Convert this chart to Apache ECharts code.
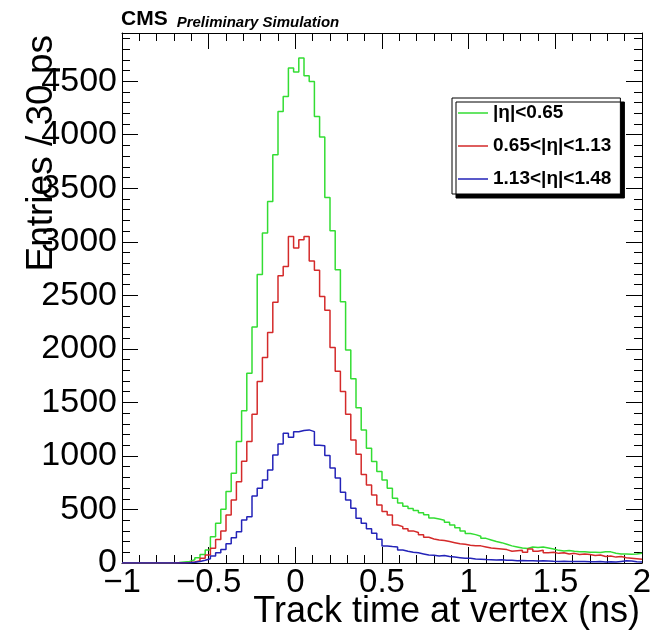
<!DOCTYPE html>
<html><head><meta charset="utf-8">
<script src="https://cdn.jsdelivr.net/npm/echarts@6/dist/echarts.min.js"></script>
<style>html,body{margin:0;padding:0;background:#fff}#c{width:656px;height:635px}</style>
</head><body><div id="c"></div>
<script>
// Histogram binning: 100 bins of 30 ps from -1 ns to 2 ns
const binStart = -1;
const binWidth = 0.03;
const seriesNames = ['|η|<0.65', '0.65<|η|<1.13', '1.13<|η|<1.48'];
const seriesColors = ['#33dd33', '#d42a2a', '#2323b8'];

const green = [
  0,0,0,0,0,0,0,0,0,3,
  5,10,15,30,50,80,121,246,371,501,
  667,838,1134,1421,1773,2203,2695,3081,3377,3813,
  4218,4358,4623,4586,4717,4551,4498,4171,3978,3414,
  3103,2738,2440,1990,1720,1450,1243,1072,947,854,
  776,698,604,560,530,510,490,470,450,420,
  410,400,380,355,330,300,275,265,250,230,
  215,200,190,175,160,150,140,135,150,145,
  150,140,130,118,112,116,110,106,104,100,
  100,98,106,104,92,85,83,81,85,90
];
const red = [
  0,0,0,0,0,0,0,0,0,0,
  2,3,5,10,20,44,75,137,220,300,
  449,589,760,950,1134,1389,1695,1919,2153,2436,
  2682,2770,3050,2941,3019,3050,2820,2735,2489,2360,
  2012,1792,1601,1390,1148,1015,827,729,636,542,
  480,449,355,340,320,300,285,265,240,225,
  215,210,200,190,180,175,165,160,160,150,
  140,135,130,125,110,115,120,100,130,110,
  120,95,100,90,95,85,90,80,85,80,
  70,75,60,65,55,60,50,45,40,35
];
const blue = [
  0,0,0,0,0,0,0,0,0,0,
  0,0,3,8,15,25,40,65,95,125,
  180,235,293,402,433,626,698,776,869,1009,
  1112,1212,1175,1225,1237,1243,1227,1100,1095,1005,
  888,794,660,589,511,418,371,320,277,221,
  159,153,150,121,110,100,95,85,75,72,
  65,70,60,55,50,45,45,38,35,32,
  30,28,30,25,25,22,24,20,20,18,
  20,18,16,15,17,14,15,13,14,12,
  12,13,10,12,10,15,20,18,12,10
];

const xMin = -1, xMax = 2, xInterval = 0.5;
const yMin = 0, yMax = 4950, yInterval = 500;

function histData(vals) {
  const d = vals.map((v, i) => [+(binStart + i * binWidth).toFixed(4), v]);
  d.push([+(binStart + vals.length * binWidth).toFixed(4), vals[vals.length - 1]]);
  return d;
}

const FONT = 'Liberation Sans, Arial, Helvetica, sans-serif';
const chart = echarts.init(document.getElementById('c'), null, {renderer: 'canvas'});

const tickCommon = {inside: true, length: 16, lineStyle: {color: '#000', width: 1}};
const minorCommon = {show: true, splitNumber: 5, length: 8, lineStyle: {color: '#000', width: 1}};
const lineCommon = {show: true, onZero: false, lineStyle: {color: '#000', width: 1}};
// a 30x14 box holding a thin horizontal bar (corner dots keep the box size)
const lineIcon = 'path://M0,0h0.01v0.01h-0.01zM0,6.2h30v1.6h-30zM29.99,13.99h0.01v0.01h-0.01z';

chart.setOption({
  animation: false,
  backgroundColor: '#fff',
  title: {
    left: 121, top: 9, padding: 0,
    text: '{a|CMS}{b|Preliminary Simulation}',
    textStyle: {
      rich: {
        a: {fontFamily: FONT, fontSize: 21, fontWeight: 'bold', color: '#000', lineHeight: 21, verticalAlign: 'bottom'},
        b: {fontFamily: FONT, fontSize: 15, fontStyle: 'italic', color: '#000', lineHeight: 21, verticalAlign: 'bottom', padding: [0, 0, 0, 9]}
      }
    }
  },
  legend: {
    orient: 'vertical', left: 452, top: 98,
    padding: [5, 9, 5, 6],
    icon: lineIcon,
    itemWidth: 30, itemHeight: 14, itemGap: 13,
    backgroundColor: '#fff', borderColor: '#000', borderWidth: 1, borderRadius: 0,
    shadowColor: '#000', shadowBlur: 0, shadowOffsetX: 4, shadowOffsetY: 4,
    textStyle: {fontFamily: FONT, fontSize: 19, fontWeight: 'bold', color: '#000', lineHeight: 20},
    data: seriesNames
  },
  grid: {left: 122, right: 14, top: 33, bottom: 72, show: false, containLabel: false},
  xAxis: [{
    type: 'value', min: xMin, max: xMax, interval: xInterval, position: 'bottom',
    axisLine: lineCommon, axisTick: tickCommon, minorTick: minorCommon,
    splitLine: {show: false}, minorSplitLine: {show: false},
    axisLabel: {fontFamily: FONT, fontSize: 33, color: '#000', margin: 3,
      formatter: v => String(v).replace('-', '\u2212')},
    name: 'Track time at vertex (ns)', nameLocation: 'end', nameGap: -2, nameMoveOverlap: false,
    nameTextStyle: {fontFamily: FONT, fontSize: 36, color: '#000', align: 'right', verticalAlign: 'top', lineHeight: 36, padding: [31, 0, 0, 0]}
  }, {
    type: 'value', min: xMin, max: xMax, interval: xInterval, position: 'top',
    axisLine: lineCommon, axisTick: tickCommon, minorTick: minorCommon,
    splitLine: {show: false}, axisLabel: {show: false}
  }],
  yAxis: [{
    type: 'value', min: yMin, max: yMax, interval: yInterval, position: 'left',
    axisLine: lineCommon, axisTick: tickCommon, minorTick: minorCommon,
    splitLine: {show: false}, minorSplitLine: {show: false},
    axisLabel: {fontFamily: FONT, fontSize: 34, color: '#000', margin: 5,
      formatter: v => (v % yInterval === 0 ? String(v) : '')},
    name: 'Entries / 30 ps', nameLocation: 'end', nameGap: -2, nameRotate: 90, nameMoveOverlap: false,
    nameTextStyle: {fontFamily: FONT, fontSize: 37, color: '#000', align: 'right', verticalAlign: 'bottom', lineHeight: 37, padding: [0, 0, 62, 0]}
  }, {
    type: 'value', min: yMin, max: yMax, interval: yInterval, position: 'right',
    axisLine: lineCommon, axisTick: tickCommon, minorTick: minorCommon,
    splitLine: {show: false}, axisLabel: {show: false}
  }],
  series: [green, red, blue].map((vals, k) => ({
    name: seriesNames[k], type: 'line', step: 'end', symbol: 'none',
    xAxisIndex: 0, yAxisIndex: 0,
    lineStyle: {color: seriesColors[k], width: 1.5},
    itemStyle: {color: seriesColors[k]},
    data: histData(vals)
  }))
});
</script>
</body></html>
